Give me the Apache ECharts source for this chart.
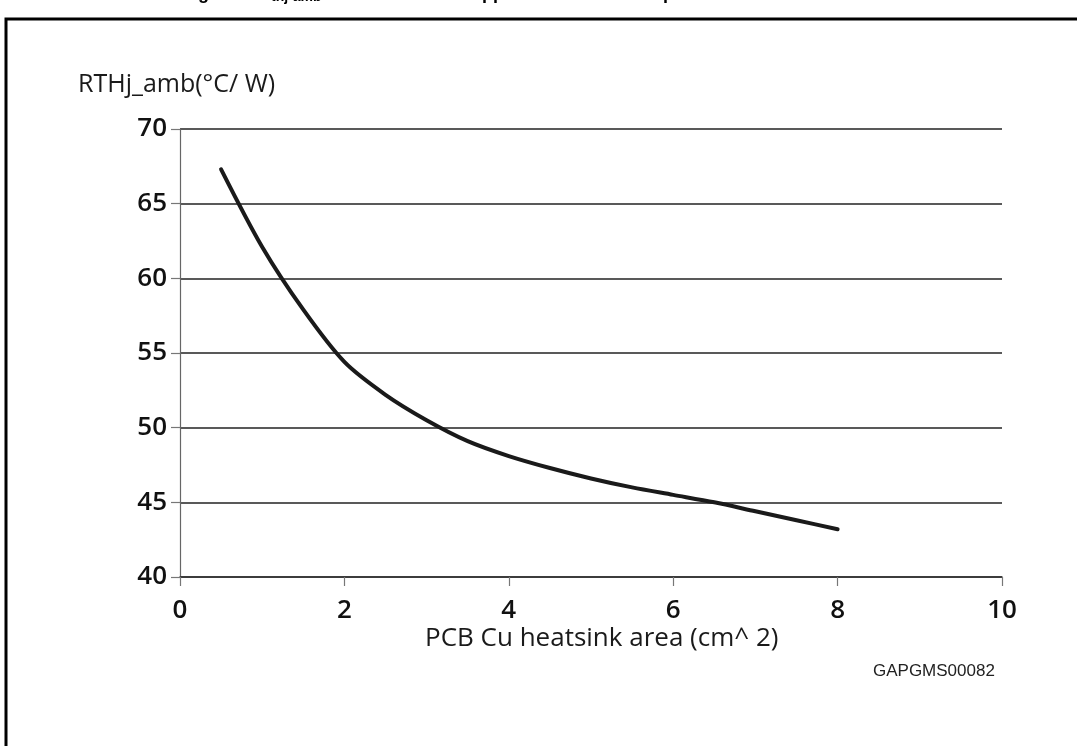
<!DOCTYPE html>
<html>
<head>
<meta charset="utf-8">
<script src="https://cdn.jsdelivr.net/npm/echarts@6/dist/echarts.min.js"></script>
<style>
  html, body { margin: 0; padding: 0; background: #fff; }
  #chart { width: 1077px; height: 746px; }
</style>
</head>
<body>
<div id="chart"></div>
<script>
  // PCB Cu heatsink area (cm^2) vs Rthj_amb (°C/W)
  const areaCm2 = [0.5, 1.0, 1.5, 2.0, 2.5, 3.0, 3.5, 4.0, 4.5, 5.0, 5.5, 6.0, 6.5, 7.0, 7.5, 8.0];
  const rthAmb  = [67.3, 62.1, 57.9, 54.4, 52.2, 50.5, 49.1, 48.1, 47.3, 46.6, 46.0, 45.5, 45.0, 44.4, 43.8, 43.2];
  const xTicks = { min: 0, max: 10, step: 2 };
  const yTicks = { min: 40, max: 70, step: 5 };

  const labelFont = '"Open Sans", "DejaVu Sans", sans-serif';
  const chart = echarts.init(document.getElementById('chart'));

  const option = {
    backgroundColor: '#fff',
    animation: false,
    grid: { left: 180, right: 75, top: 129, bottom: 169 },
    xAxis: {
      type: 'value',
      min: xTicks.min, max: xTicks.max, interval: xTicks.step,
      axisLine: { show: true, onZero: false, lineStyle: { color: '#333', width: 1.5 } },
      axisTick: { show: true, length: 9, lineStyle: { color: '#777', width: 1.2 } },
      axisLabel: { margin: 21, fontSize: 26, fontWeight: 600, color: '#111', fontFamily: labelFont },
      splitLine: { show: false }
    },
    yAxis: {
      type: 'value',
      min: yTicks.min, max: yTicks.max, interval: yTicks.step,
      axisLine: { show: true, lineStyle: { color: '#666', width: 1.2 } },
      axisTick: { show: true, length: 9, lineStyle: { color: '#777', width: 1.2 } },
      axisLabel: { margin: 13, fontSize: 26, fontWeight: 600, color: '#111', fontFamily: labelFont },
      splitLine: { show: true, lineStyle: { color: '#222', width: 1.5 } }
    },
    series: [{
      type: 'line',
      data: areaCm2.map((x, i) => [x, rthAmb[i]]),
      smooth: 0.3,
      symbol: 'none',
      lineStyle: { color: '#1a1a1a', width: 4, cap: 'round' }
    }],
    graphic: [
      // outer frame, open at right and bottom (cut by the picture edge)
      { type: 'rect', shape: { x: 6, y: 19, width: 1200, height: 900 },
        style: { fill: 'none', stroke: '#000', lineWidth: 3 } },
      // clipped figure caption at the very top
      { type: 'text', left: 182, top: -15,
        style: { text: 'Figure 9.', font: 'bold 18px "Liberation Sans", Arial', fill: '#000' } },
      { type: 'text', left: 258, top: -16,
        style: { text: 'R{s|thj-amb}', font: 'bold 18px "Liberation Sans", Arial', fill: '#000',
          rich: { s: { font: 'bold 14px "Liberation Sans", Arial', fill: '#000', padding: [9, 0, 0, 0] } } } },
      { type: 'text', left: 461, top: -15,
        style: { text: 'copper', font: 'bold 18px "Liberation Sans", Arial', fill: '#000' } },
      { type: 'text', left: 646, top: -15,
        style: { text: 'top', font: 'bold 18px "Liberation Sans", Arial', fill: '#000' } },
      // axis titles
      { type: 'text', left: 78, top: 72,
        style: { text: 'RTHj_amb(°C/ W)', font: '500 25px "Open Sans", sans-serif', fill: '#1a1a1a' } },
      { type: 'text', left: 425, top: 626,
        style: { text: 'PCB Cu heatsink area (cm^ 2)', font: '500 26px "Open Sans", sans-serif', fill: '#1a1a1a' } },
      { type: 'text', left: 873, top: 663,
        style: { text: 'GAPGMS00082', font: '17px "Liberation Sans", Arial', fill: '#222' } }
    ]
  };

  chart.setOption(option);
</script>
</body>
</html>
